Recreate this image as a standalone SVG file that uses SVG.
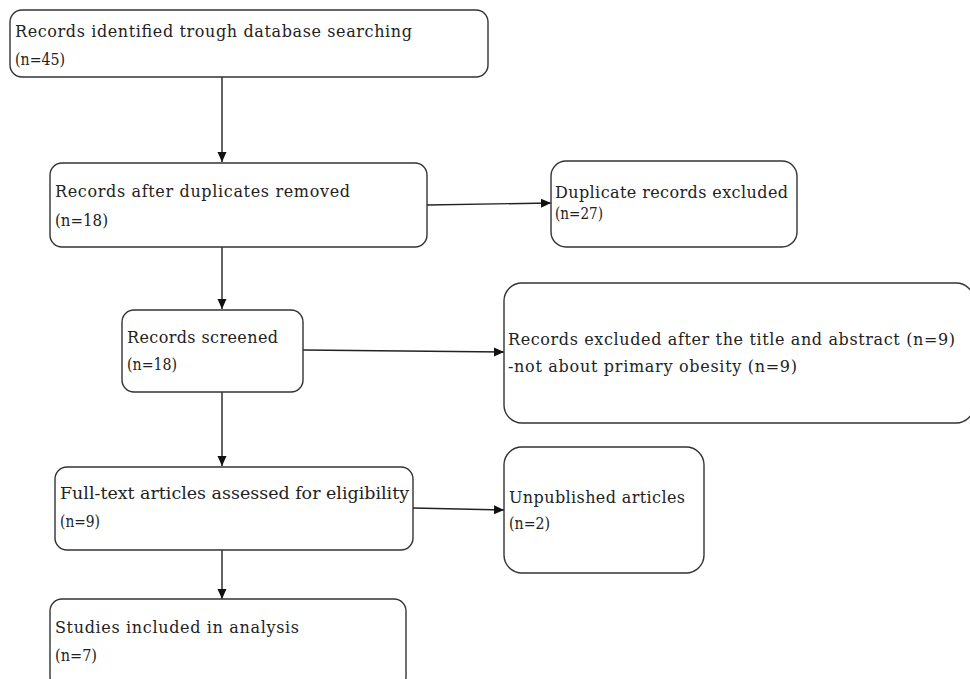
<svg xmlns="http://www.w3.org/2000/svg" width="970" height="679" viewBox="0 0 970 679">
<style>
.box{fill:#fff;stroke:#333;stroke-width:1.4}
.t{font-family:"DejaVu Serif","Liberation Serif",serif;font-size:16px;fill:#222}
.c{stroke:#222;stroke-width:1.4;fill:none;marker-end:url(#ah)}
</style>
<defs>
<marker id="ah" markerUnits="userSpaceOnUse" markerWidth="12" markerHeight="10" refX="10" refY="5" orient="auto">
<path d="M0,0.5 L10,5 L0,9.5 Z" fill="#111"/>
</marker>
</defs>
<rect width="970" height="679" fill="#fff"/>
<g id="connectors">
<line class="c" x1="222" y1="77" x2="222" y2="162"/>
<line class="c" x1="427" y1="205" x2="551" y2="203"/>
<line class="c" x1="222" y1="247" x2="222" y2="309"/>
<line class="c" x1="303" y1="350" x2="504" y2="352"/>
<line class="c" x1="222" y1="392" x2="222" y2="466"/>
<line class="c" x1="413" y1="508" x2="504" y2="510"/>
<line class="c" x1="222" y1="550" x2="222" y2="599"/>
</g>
<g id="n1">
<rect class="box" x="10" y="10" width="478" height="67" rx="12"/>
<text class="t" x="15" y="37" textLength="397" lengthAdjust="spacing">Records identified trough database searching</text>
<text class="t" x="15" y="65" textLength="50" lengthAdjust="spacingAndGlyphs">(n=45)</text>
</g>
<g id="n2">
<rect class="box" x="50" y="163" width="377" height="84" rx="12"/>
<text class="t" x="55" y="197" textLength="295" lengthAdjust="spacing">Records after duplicates removed</text>
<text class="t" x="55" y="226" textLength="53" lengthAdjust="spacingAndGlyphs">(n=18)</text>
</g>
<g id="n3">
<rect class="box" x="551" y="161" width="246" height="86" rx="15"/>
<text class="t" x="555" y="198" textLength="233" lengthAdjust="spacing">Duplicate records excluded</text>
<text class="t" x="555" y="219" textLength="48" lengthAdjust="spacingAndGlyphs">(n=27)</text>
</g>
<g id="n4">
<rect class="box" x="122" y="310" width="181" height="82" rx="12"/>
<text class="t" x="127" y="343" textLength="151" lengthAdjust="spacing">Records screened</text>
<text class="t" x="127" y="370" textLength="50" lengthAdjust="spacingAndGlyphs">(n=18)</text>
</g>
<g id="n5">
<rect class="box" x="504" y="283" width="470" height="140" rx="18"/>
<text class="t" x="508" y="345" textLength="447" lengthAdjust="spacing">Records excluded after the title and abstract (n=9)</text>
<text class="t" x="508" y="372" textLength="289" lengthAdjust="spacing">-not about primary obesity (n=9)</text>
</g>
<g id="n6">
<rect class="box" x="55" y="467" width="358" height="83" rx="12"/>
<text class="t" x="60" y="499" textLength="349" lengthAdjust="spacingAndGlyphs">Full-text articles assessed for eligibility</text>
<text class="t" x="60" y="527" textLength="40" lengthAdjust="spacingAndGlyphs">(n=9)</text>
</g>
<g id="n7">
<rect class="box" x="504" y="447" width="200" height="126" rx="18"/>
<text class="t" x="509" y="503" textLength="176" lengthAdjust="spacing">Unpublished articles</text>
<text class="t" x="509" y="529" textLength="41" lengthAdjust="spacingAndGlyphs">(n=2)</text>
</g>
<g id="n8">
<rect class="box" x="50" y="599" width="356" height="90" rx="12"/>
<text class="t" x="55" y="633" textLength="244" lengthAdjust="spacing">Studies included in analysis</text>
<text class="t" x="55" y="661" textLength="42" lengthAdjust="spacingAndGlyphs">(n=7)</text>
</g>
</svg>
